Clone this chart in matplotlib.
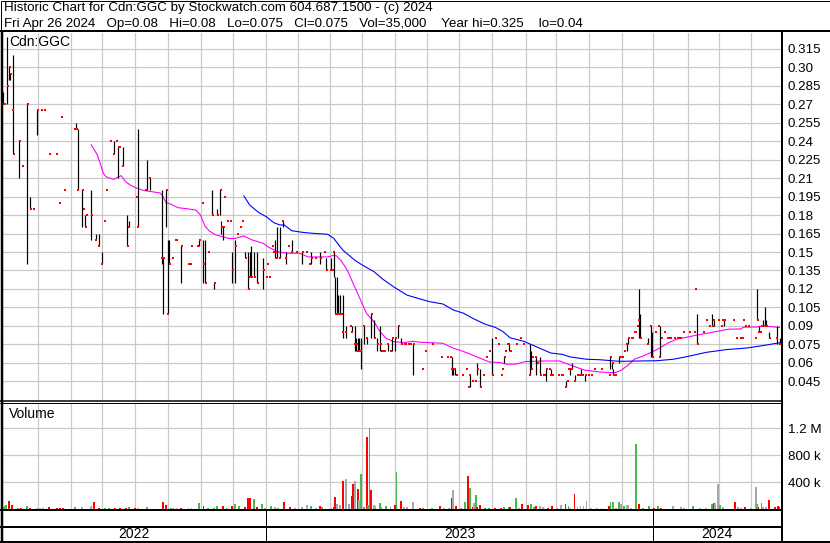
import matplotlib
matplotlib.use('Agg')
import matplotlib.pyplot as plt

# x positions are trading-session slots: 520 slots span the chart (late Apr 2022 .. Apr 26 2024)
n_slots = 520

# price bars with a range: (slot, high, low)
ranges = [
    (0, .28, .27), (3, .325, .27), (4, .30, .29), (5, .295, .29), (7, .31, .23), (11, .24, .21),
    (16, .27, .14), (18, .195, .185), (23, .265, .245), (49, .255, .25), (50, .25, .20),
    (53, .20, .17), (55, .18, .17), (59, .20, .16), (62, .165, .16), (64, .165, .155),
    (66, .15, .14), (74, .24, .23), (77, .235, .21), (80, .235, .22), (83, .18, .155),
    (84, .175, .17), (90, .25, .17), (96, .225, .20), (98, .21, .20), (106, .20, .14),
    (107, .145, .10), (109, .20, .17), (110, .16, .10), (111, .16, .14), (119, .155, .125),
    (131, .16, .155), (134, .16, .125), (135, .16, .125), (140, .20, .18), (141, .125, .12),
    (143, .185, .18), (145, .20, .18), (146, .175, .165), (147, .17, .16), (153, .15, .125),
    (155, .16, .125), (162, .15, .145), (164, .15, .12), (165, .15, .13), (166, .155, .13),
    (168, .15, .13), (170, .15, .125), (174, .145, .12), (182, .16, .145), (183, .17, .145),
    (185, .17, .145), (187, .175, .17), (189, .15, .14), (193, .16, .15), (200, .15, .14),
    (206, .15, .14), (212, .15, .14), (216, .145, .135), (219, .145, .135), (221, .15, .13),
    (222, .13, .10), (223, .13, .10), (224, .115, .10), (225, .115, .10), (227, .115, .08),
    (229, .09, .08), (233, .09, .085), (235, .09, .07), (236, .08, .07), (237, .08, .07),
    (238, .08, .07), (239, .08, .055), (241, .09, .075), (243, .08, .075), (246, .10, .08),
    (248, .095, .08), (250, .08, .07), (252, .09, .07), (257, .075, .07), (260, .08, .07),
    (262, .08, .07), (264, .09, .08), (266, .08, .075), (274, .075, .05), (300, .065, .05),
    (301, .055, .05), (302, .055, .05), (312, .05, .04), (317, .06, .05), (319, .055, .04),
    (327, .08, .05), (335, .065, .06), (338, .075, .07), (352, .075, .05), (353, .07, .055),
    (356, .065, .05), (359, .065, .05), (363, .055, .045), (366, .055, .05), (376, .045, .04),
    (379, .055, .05), (380, .06, .055), (382, .05, .045), (386, .055, .05), (389, .05, .045),
    (406, .065, .055), (407, .06, .055), (408, .055, .05), (412, .065, .06), (417, .075, .07),
    (418, .08, .075), (425, .12, .08), (426, .10, .08), (431, .08, .075), (433, .09, .065),
    (434, .085, .065), (439, .09, .065), (464, .10, .075), (474, .10, .09), (475, .095, .09),
    (482, .095, .09), (504, .12, .095), (505, .09, .085), (508, .095, .09), (509, .105, .09),
    (510, .095, .09), (512, .085, .08), (517, .09, .075), (519, .08, .075),
]

# closing prices: (slot, close)
closes = [
    (0, .27), (1, .27), (3, .285), (4, .30), (5, .295), (6, .265), (7, .23), (11, .24), (13, .22),
    (16, .27), (18, .185), (20, .185), (23, .265), (26, .265), (28, .265), (31, .23), (36, .23),
    (38, .19), (39, .26), (41, .20), (48, .25), (49, .25), (50, .20), (53, .20), (54, .185),
    (55, .17), (56, .18), (59, .18), (62, .16), (64, .155), (66, .14), (68, .175), (69, .20),
    (72, .24), (74, .23), (76, .24), (77, .235), (78, .235), (80, .22), (83, .155), (84, .17),
    (89, .195), (90, .17), (95, .20), (96, .20), (98, .21), (106, .145), (107, .145), (109, .20),
    (110, .10), (111, .14), (113, .145), (115, .16), (116, .16), (119, .155), (124, .14), (125, .14),
    (126, .155), (130, .155), (131, .16), (133, .19), (134, .14), (135, .125), (137, .15), (140, .18),
    (141, .125), (143, .18), (145, .20), (146, .17), (147, .17), (148, .195), (150, .175), (152, .175),
    (153, .135), (155, .155), (157, .165), (159, .17), (160, .175), (162, .145), (164, .12), (165, .13),
    (166, .13), (168, .13), (170, .125), (174, .135), (176, .13), (177, .14), (178, .13), (180, .155),
    (181, .15), (182, .15), (183, .145), (185, .145), (187, .175), (189, .145), (191, .155), (193, .15),
    (196, .15), (200, .15), (203, .15), (205, .14), (206, .145), (209, .145), (212, .145), (215, .15),
    (216, .135), (219, .135), (220, .135), (221, .15), (222, .10), (223, .10), (224, .10), (225, .10),
    (226, .10), (227, .085), (229, .085), (232, .09), (233, .085), (235, .075), (236, .075), (237, .07),
    (238, .07), (239, .07), (241, .09), (243, .08), (246, .10), (248, .08), (250, .075), (252, .075),
    (253, .07), (254, .07), (255, .07), (257, .075), (259, .07), (260, .08), (262, .08), (264, .09),
    (266, .075), (268, .075), (269, .075), (271, .075), (272, .075), (274, .075), (280, .055), (282, .07),
    (287, .075), (293, .065), (297, .065), (299, .065), (300, .055), (301, .055), (302, .055), (303, .05),
    (307, .05), (310, .055), (311, .04), (312, .05), (314, .045), (316, .045), (317, .055), (319, .04),
    (321, .05), (323, .065), (325, .07), (327, .05), (329, .08), (331, .075), (333, .05), (334, .055),
    (335, .065), (336, .07), (337, .075), (338, .075), (339, .07), (343, .075), (346, .08), (348, .075),
    (352, .05), (353, .055), (354, .065), (356, .065), (357, .06), (359, .05), (361, .05), (362, .05),
    (363, .055), (365, .055), (366, .05), (367, .05), (371, .05), (373, .05), (374, .05), (376, .04),
    (377, .045), (378, .055), (379, .055), (380, .055), (382, .045), (384, .05), (385, .05), (386, .05),
    (387, .05), (389, .05), (391, .05), (393, .05), (395, .055), (400, .055), (405, .05), (406, .065),
    (407, .06), (408, .05), (409, .05), (412, .065), (413, .065), (414, .065), (415, .07), (417, .075),
    (418, .08), (420, .08), (421, .08), (422, .085), (423, .085), (424, .09), (425, .095), (426, .08),
    (431, .075), (433, .09), (434, .065), (436, .085), (438, .09), (439, .065), (440, .08), (442, .085),
    (444, .08), (445, .08), (446, .08), (449, .08), (451, .08), (452, .08), (453, .08), (455, .085),
    (459, .085), (462, .085), (463, .12), (464, .075), (468, .085), (470, .095), (472, .09), (474, .09),
    (475, .095), (478, .095), (480, .09), (481, .095), (482, .095), (488, .095), (490, .08), (493, .08),
    (494, .08), (495, .095), (496, .09), (498, .09), (503, .08), (504, .095), (505, .085), (506, .085),
    (507, .09), (508, .09), (509, .09), (510, .09), (512, .08), (517, .08), (519, .075),
]

# moving averages: (slot, value)
ma_fast = [
    (59, .237), (63, .229), (65, .222), (67, .214), (69, .211), (74, .209), (77, .211), (79, .212),
    (82, .207), (85, .2045), (89, .202), (94, .200), (105, .198), (107, .195), (109, .190), (112, .189),
    (117, .186), (124, .185), (129, .184), (132, .180), (135, .171), (138, .167), (142, .164), (145, .163),
    (151, .161), (155, .161), (161, .163), (166, .160), (174, .157), (178, .1535), (185, .1497), (192, .149),
    (198, .149), (204, .146), (212, .146), (217, .146), (221, .1473), (223, .1468), (226, .143), (230, .1355),
    (234, .1246), (239, .111), (243, .100), (248, .0934), (252, .0853), (256, .080), (261, .0772),
    (268, .0764), (274, .0775), (279, .0767), (294, .0759), (301, .0718), (305, .0704), (311, .0677),
    (319, .0637), (325, .0607), (332, .0603), (337, .0588), (343, .0590), (349, .061), (361, .0615),
    (372, .0615), (377, .0592), (383, .0565), (389, .0540), (399, .0525), (409, .052), (413, .0538),
    (418, .0583), (422, .0630), (428, .0656), (434, .069), (439, .072), (445, .0765), (451, .0795),
    (457, .0808), (464, .0826), (475, .085), (485, .0873), (493, .0875), (495, .0889), (504, .0891),
    (508, .090), (519, .0887),
]
ma_slow = [
    (161, .1955), (165, .188), (171, .182), (176, .1787), (181, .1738), (185, .172), (188, .172),
    (193, .1673), (200, .166), (207, .1652), (217, .1644), (221, .1612), (227, .1517), (235, .1435),
    (240, .1395), (248, .134), (254, .1278), (261, .1218), (270, .115), (279, .1118), (285, .1097),
    (294, .1078), (301, .1029), (308, .1002), (314, .0961), (322, .0915), (329, .0888), (334, .0855),
    (339, .0803), (348, .0775), (357, .0728), (366, .068), (374, .0668), (379, .0648), (390, .0629),
    (399, .0625), (412, .0612), (426, .0615), (437, .0617), (448, .0629), (457, .065), (470, .0685),
    (484, .0708), (497, .0720), (508, .0740), (519, .0763),
]

# volume in thousands: (slot, volume_k, direction u/d/n)
volumes = [
    (0, 35, 'n'), (1, 45, 'u'), (2, 60, 'u'), (4, 119, 'd'), (6, 60, 'd'), (10, 25, 'u'), (12, 15, 'd'),
    (16, 45, 'u'), (18, 15, 'd'), (23, 15, 'n'), (25, 15, 'n'), (27, 15, 'n'), (31, 30, 'd'), (36, 15, 'd'),
    (38, 15, 'd'), (40, 15, 'd'), (48, 30, 'u'), (53, 30, 'n'), (59, 45, 'n'), (61, 104, 'd'), (64, 25, 'd'),
    (68, 15, 'u'), (71, 15, 'u'), (75, 15, 'd'), (78, 15, 'd'), (82, 15, 'd'), (84, 30, 'u'), (88, 15, 'd'),
    (90, 15, 'n'), (96, 30, 'u'), (107, 104, 'd'), (109, 60, 'd'), (112, 15, 'u'), (114, 15, 'u'),
    (116, 15, 'n'), (119, 15, 'd'), (124, 15, 'n'), (126, 15, 'n'), (131, 89, 'u'), (134, 45, 'd'),
    (137, 15, 'u'), (141, 15, 'u'), (143, 45, 'u'), (147, 45, 'd'), (150, 15, 'n'), (153, 45, 'd'),
    (155, 74, 'u'), (158, 45, 'u'), (162, 30, 'd'), (164, 164, 'd'), (165, 164, 'd'), (168, 149, 'u'),
    (170, 30, 'd'), (173, 74, 'u'), (175, 15, 'n'), (179, 45, 'u'), (182, 30, 'n'), (184, 15, 'u'),
    (188, 104, 'd'), (192, 30, 'd'), (195, 15, 'n'), (200, 30, 'n'), (203, 60, 'n'), (206, 45, 'u'),
    (209, 15, 'n'), (212, 45, 'd'), (213, 30, 'u'), (219, 15, 'n'), (221, 30, 'd'), (222, 183, 'd'),
    (223, 84, 'n'), (225, 60, 'n'), (227, 416, 'd'), (229, 446, 'n'), (231, 74, 'n'), (233, 198, 'd'),
    (234, 372, 'd'), (235, 416, 'n'), (237, 297, 'd'), (238, 134, 'n'), (239, 520, 'u'), (241, 35, 'u'),
    (243, 1071, 'd'), (244, 60, 'u'), (245, 1200, 'u'), (246, 283, 'd'), (248, 60, 'n'), (249, 45, 'n'),
    (252, 89, 'u'), (253, 30, 'n'), (256, 45, 'u'), (259, 30, 'n'), (262, 60, 'd'), (263, 550, 'u'),
    (266, 119, 'd'), (268, 30, 'n'), (270, 30, 'n'), (274, 104, 'n'), (279, 15, 'd'), (281, 15, 'u'),
    (287, 15, 'u'), (292, 45, 'd'), (295, 15, 'n'), (298, 15, 'n'), (300, 164, 'd'), (301, 283, 'n'),
    (303, 45, 'd'), (306, 15, 'n'), (309, 104, 'u'), (311, 491, 'd'), (312, 312, 'u'), (314, 30, 'd'),
    (315, 89, 'n'), (316, 208, 'u'), (317, 30, 'd'), (319, 60, 'd'), (322, 15, 'u'), (325, 15, 'u'),
    (329, 15, 'd'), (333, 15, 'd'), (335, 30, 'u'), (338, 30, 'u'), (339, 30, 'd'), (343, 164, 'u'),
    (345, 15, 'n'), (347, 74, 'd'), (351, 60, 'd'), (353, 74, 'u'), (355, 30, 'u'), (356, 45, 'd'),
    (359, 45, 'n'), (361, 30, 'n'), (364, 15, 'd'), (367, 45, 'd'), (370, 15, 'n'), (373, 60, 'n'),
    (376, 74, 'd'), (378, 45, 'u'), (379, 15, 'n'), (382, 223, 'd'), (384, 30, 'n'), (386, 45, 'n'),
    (388, 45, 'n'), (390, 119, 'n'), (393, 15, 'n'), (397, 15, 'n'), (400, 15, 'n'), (405, 45, 'd'),
    (406, 104, 'u'), (408, 104, 'u'), (410, 15, 'n'), (412, 104, 'u'), (413, 74, 'n'), (415, 45, 'u'),
    (417, 60, 'n'), (418, 60, 'n'), (420, 15, 'n'), (423, 966, 'u'), (425, 74, 'd'), (428, 15, 'u'),
    (432, 45, 'u'), (435, 15, 'd'), (438, 45, 'u'), (440, 15, 'd'), (448, 45, 'n'), (453, 30, 'n'),
    (455, 15, 'n'), (461, 45, 'u'), (466, 15, 'n'), (470, 15, 'n'), (474, 74, 'u'), (475, 89, 'd'),
    (476, 89, 'n'), (478, 372, 'n'), (479, 60, 'u'), (481, 30, 'n'), (489, 104, 'd'), (491, 30, 'n'),
    (493, 15, 'n'), (496, 30, 'd'), (500, 15, 'n'), (503, 327, 'n'), (504, 74, 'u'), (505, 30, 'd'),
    (507, 89, 'u'), (508, 30, 'n'), (510, 30, 'n'), (512, 134, 'd'), (516, 30, 'd'), (518, 45, 'd'),
    (519, 35, 'd'),
]

# month boundaries (slot positions) and year blocks
month_lines = [23.6, 45.5, 66.4, 88.2, 110.5, 132.3, 153.9, 175.6, 197.0, 218.6, 240.2, 262.0,
               283.6, 304.8, 326.6, 349.4, 369.4, 391.9, 413.7, 434.7, 457.7, 478.6, 499.8]
year_lines = [175.6, 434.7]
year_labels = ['2022', '2023', '2024']

price_ticks = [0.045, 0.06, 0.075, 0.09, 0.105, 0.12, 0.135, 0.15, 0.165, 0.18, 0.195,
               0.21, 0.225, 0.24, 0.255, 0.27, 0.285, 0.30, 0.315]
price_labels = ['0.045', '0.06', '0.075', '0.09', '0.105', '0.12', '0.135', '0.15', '0.165', '0.18',
                '0.195', '0.21', '0.225', '0.24', '0.255', '0.27', '0.285', '0.30', '0.315']
vol_ticks = [400, 800, 1200]
vol_labels = ['400 k', '800 k', '1.2 M']

header1 = 'Historic Chart for Cdn:GGC by Stockwatch.com 604.687.1500 - (c) 2024'
header2 = ('Fri Apr 26 2024   Op=0.08   Hi=0.08   Lo=0.075   Cl=0.075   '
           'Vol=35,000    Year hi=0.325    lo=0.04')

plt.rcParams['font.family'] = ['Liberation Sans', 'DejaVu Sans']
FS = 9.6
GRID = '#c8c8c8'
PX = 0.72  # one pixel in points at 100 dpi
vol_colors = {'u': '#4cb84c', 'd': '#ff0000', 'n': '#a8a8a8'}

W, H = 830, 543
fig = plt.figure(figsize=(W / 100, H / 100), dpi=100, facecolor='white')


def box(x0, y0, x1, y1):
    # pixel box with top-left origin -> figure rect
    return [x0 / W, 1 - y1 / H, (x1 - x0) / W, (y1 - y0) / H]


def style_panel(a):
    for s in a.spines.values():
        s.set_visible(False)
    a.set_xlim(0, n_slots)
    a.set_xticks(month_lines)
    a.tick_params(axis='x', length=0, labelbottom=False)
    a.yaxis.tick_right()
    a.tick_params(axis='y', length=0, pad=5, labelsize=FS)
    a.grid(True, color=GRID, lw=1.2 * PX)
    a.set_axisbelow(True)


# price panel
ax = fig.add_axes(box(3, 33, 781, 400))
style_panel(ax)
ax.set_ylim(0.0298, 0.3279)
ax.set_yticks(price_ticks, labels=price_labels)

rd = [r[0] for r in ranges]
ax.vlines(rd, [r[2] for r in ranges], [r[1] for r in ranges], color='black', lw=1.2 * PX, zorder=3)
ax.plot([c[0] + 0.4 for c in closes], [c[1] for c in closes], 's', color='#ff0000',
        ms=2.0, mew=0, antialiased=False, zorder=4)
ax.plot([m[0] for m in ma_fast], [m[1] for m in ma_fast], color='#ff00ff', lw=1.1 * PX, zorder=2)
ax.plot([m[0] for m in ma_slow], [m[1] for m in ma_slow], color='#0000ff', lw=1.1 * PX, zorder=2)
ax.text(0.008, 0.975, 'Cdn:GGC', transform=ax.transAxes, fontsize=FS + 0.4, va='center', ha='left')

# volume panel
axv = fig.add_axes(box(3, 403, 781, 509.5))
style_panel(axv)
axv.set_ylim(0, 1574)
axv.set_yticks(vol_ticks, labels=vol_labels)
axv.bar([v[0] for v in volumes], [v[1] for v in volumes], width=1.25,
        color=[vol_colors[v[2]] for v in volumes], lw=0, zorder=3)
axv.text(0.008, 0.9, 'Volume', transform=axv.transAxes, fontsize=FS + 0.4, va='center', ha='left')

# date strip
axd = fig.add_axes(box(3, 510, 781, 541))
axd.set_axis_off()
axd.set_xlim(0, n_slots)
axd.set_ylim(0, 2)
axd.vlines(year_lines, 0, 2, color='black', lw=PX)
edges = [0] + year_lines + [n_slots]
for i, lab in enumerate(year_labels):
    axd.text((edges[i] + edges[i + 1]) / 2, 0.45, lab, ha='center', va='center', fontsize=FS + 0.4)

# frame lines and header, in pixel coordinates
ov = fig.add_axes([0, 0, 1, 1])
ov.set_axis_off()
ov.set_xlim(0, W)
ov.set_ylim(H, 0)
frame = [
    ((0.5, 829.5), (0.5, 0.5), 1), ((0.5, 0.5), (0.5, 542), 1), ((829.5, 829.5), (0.5, 542), 1),
    ((0, 830), (30.5, 30.5), 2), ((1.5, 1.5), (31, 541), 2.5),
    ((0, 781), (400.5, 400.5), 1.5), ((0, 781), (403.2, 403.2), 1),
    ((782, 782), (31, 541), 2), ((0, 782), (510, 510), 2), ((0, 782), (527, 527), 2),
    ((0, 830), (541.5, 541.5), 2),
]
for xs, ys, w in frame:
    ov.plot(xs, ys, color='black', lw=w * PX, solid_capstyle='butt')
ov.text(4, 8.5, header1, fontsize=FS, va='center', ha='left')
ov.text(4, 23.5, header2, fontsize=FS, va='center', ha='left')

fig.savefig('out.png', dpi=100, facecolor='white')
